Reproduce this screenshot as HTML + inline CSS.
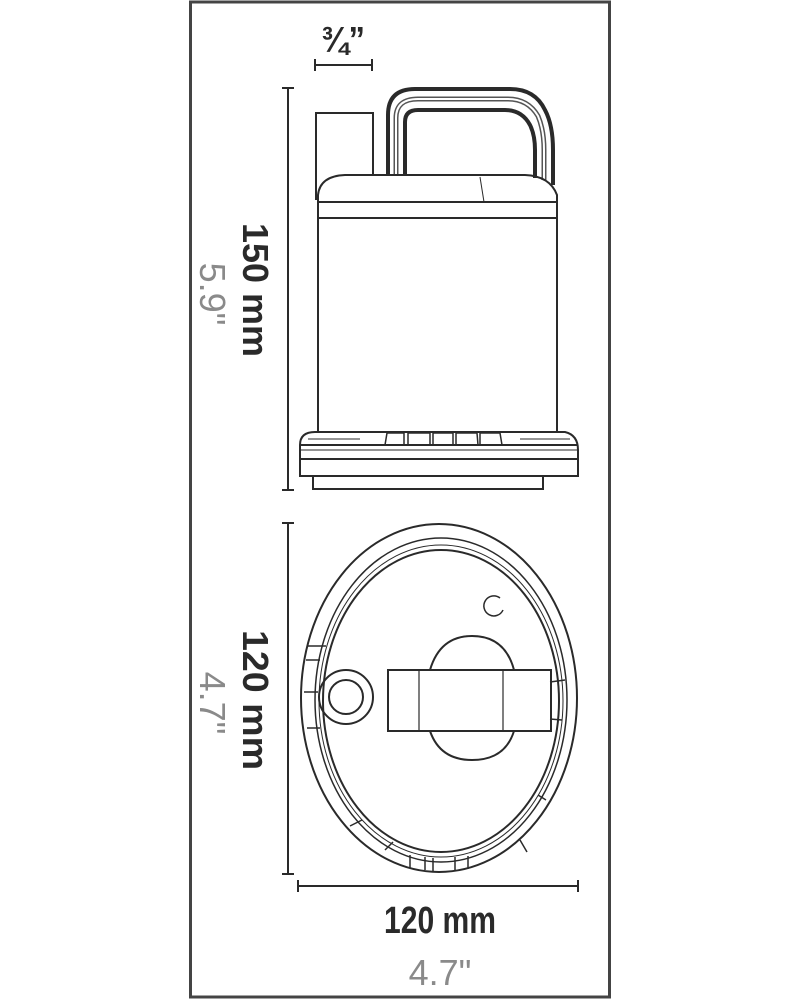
<!DOCTYPE html>
<html><head><meta charset="utf-8"><style>
html,body{margin:0;padding:0;background:#fff;}
svg{display:block;}
.b{font-family:"Liberation Sans Narrow","Liberation Sans",sans-serif;font-weight:bold;fill:#2a2a2a;}
.g{font-family:"Liberation Sans",sans-serif;fill:#8a8a8a;}
</style></head><body>
<svg width="800" height="1000" viewBox="0 0 800 1000" xmlns="http://www.w3.org/2000/svg">
<rect x="0" y="0" width="800" height="1000" fill="#fff"/>
<rect x="190.5" y="2" width="419" height="995" fill="none" stroke="#444" stroke-width="3"/>
<g stroke="#2a2a2a" fill="none" stroke-width="2">
<line x1="315" y1="65" x2="372" y2="65"/><line x1="315" y1="59" x2="315" y2="71"/><line x1="372" y1="59" x2="372" y2="71"/>
<line x1="288" y1="88" x2="288" y2="490"/><line x1="282" y1="88" x2="294" y2="88"/><line x1="282" y1="490" x2="294" y2="490"/>
<path d="M316 200 V113 H373 V175"/>
<path d="M388 175 V115 Q388 89 415 89 H510 Q535 89 545 110 Q553 125 553 150 V185" stroke-width="4"/>
<path d="M405 175 V122 Q405 110 418 110 H505 Q522 110 530 125 Q535 135 535 150 V178" stroke-width="4"/>
<path d="M396 175 V118 Q396 99 418 99 H508 Q528 99 538 116 Q544 130 544 150 V180" stroke-width="5" stroke="#555"/>
<path d="M396 175 V118 Q396 99 418 99 H508 Q528 99 538 116 Q544 130 544 150 V180" stroke-width="2" stroke="#fff"/>
<path d="M318 202 V195 Q320 176 345 175 H525 Q550 176 557 195 V202 Z"/>
<line x1="480" y1="177" x2="484" y2="202" stroke-width="1"/>
<line x1="318" y1="218" x2="557" y2="218"/>
<line x1="318" y1="202" x2="318" y2="432"/><line x1="557" y1="202" x2="557" y2="432"/>
<path d="M300 476 V445 Q300 432 315 432 H565 Q578 435 578 450 V476 Z"/>
<line x1="300" y1="445" x2="578" y2="445"/>
<line x1="300" y1="450" x2="578" y2="450" stroke-width="1"/>
<line x1="300" y1="459" x2="578" y2="459"/>
<path d="M313 476 V489 H543 V476"/>
<path d="M385 445 L387 433 H404 V445 M408 445 V433 H430 V445 M433 445 V433 H453 V445 M456 445 V433 H477 L478 445 M480 445 L480 433 H500 L502 445" stroke-width="1.5"/>
<path d="M308 439 H360 M520 439 H570" stroke-width="1"/>
<line x1="288" y1="523" x2="288" y2="874"/><line x1="282" y1="523" x2="294" y2="523"/><line x1="282" y1="874" x2="294" y2="874"/>
<line x1="298" y1="886" x2="578" y2="886"/><line x1="298" y1="880" x2="298" y2="892"/><line x1="578" y1="880" x2="578" y2="892"/>
<ellipse cx="439" cy="698" rx="138" ry="174"/>
<ellipse cx="441" cy="700" rx="126" ry="162" stroke-width="1.5"/>
<ellipse cx="441" cy="701" rx="118" ry="151"/>
<ellipse cx="441" cy="701" rx="122" ry="156" stroke-width="1"/>
<path d="M308 646 H326 M306 660 H320 M304 692 H318 M307 728 H320 M350 826 L362 820 M385 850 L393 842 M410 855 V868 M425 857 V870 M433 858 V872 M455 857 V870 M468 856 V869 M520 840 L527 852 M565 680 L550 682 M562 720 L550 719 M546 800 L538 795" stroke-width="1.5"/>
<circle cx="346" cy="697" r="27"/><circle cx="346" cy="697" r="17"/>
<path d="M500 598 A10 10 0 1 0 503 610" stroke-width="1.5"/>
<path d="M430 670 Q440 636 472 636 Q505 636 514 670"/>
<path d="M430 731 Q440 760 472 760 Q505 760 514 731"/>
<rect x="388" y="670" width="163" height="61"/>
<line x1="419" y1="670" x2="419" y2="731" stroke-width="1.2"/>
<line x1="503" y1="670" x2="503" y2="731" stroke-width="1.2"/>
</g>
<text class="b" x="343" y="52" font-size="36" text-anchor="middle" textLength="44" lengthAdjust="spacingAndGlyphs">¾”</text>
<text class="b" transform="translate(243,290) rotate(90)" font-size="36" text-anchor="middle" textLength="134" lengthAdjust="spacingAndGlyphs">150 mm</text>
<text class="g" transform="translate(200,294) rotate(90)" font-size="36" text-anchor="middle">5.9"</text>
<text class="b" transform="translate(243,700) rotate(90)" font-size="36" text-anchor="middle" textLength="140" lengthAdjust="spacingAndGlyphs">120 mm</text>
<text class="g" transform="translate(200,703) rotate(90)" font-size="36" text-anchor="middle">4.7"</text>
<text class="b" x="440" y="933" font-size="38" text-anchor="middle" textLength="112" lengthAdjust="spacingAndGlyphs">120 mm</text>
<text class="g" x="440" y="985" font-size="36" text-anchor="middle">4.7"</text>
</svg>
</body></html>
